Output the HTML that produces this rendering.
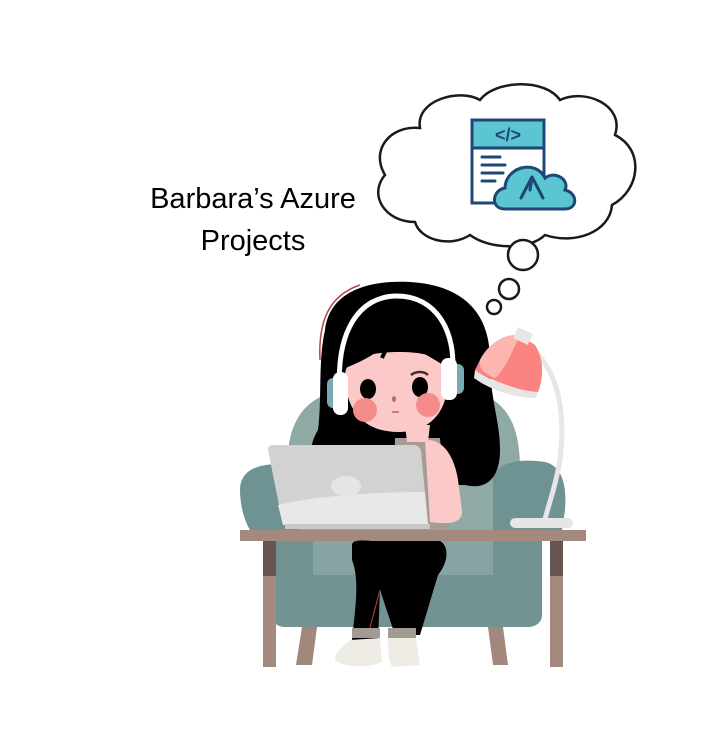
<!DOCTYPE html>
<html><head><meta charset="utf-8"><style>
html,body{margin:0;padding:0;background:#fff;width:718px;height:744px;overflow:hidden}
svg{display:block}
</style></head><body>
<svg width="718" height="744" viewBox="0 0 718 744" xmlns="http://www.w3.org/2000/svg">
<text x="253" y="208" font-family="Liberation Sans, sans-serif" font-size="29" text-anchor="middle" fill="#000">Barbara’s Azure</text>
<text x="253" y="250" font-family="Liberation Sans, sans-serif" font-size="29" text-anchor="middle" fill="#000">Projects</text>

<path d="M420,128 C415,100 460,88 480,100 C495,80 545,78 560,100 C585,88 625,105 615,135 C645,150 640,190 612,205 C610,232 575,245 545,235 C530,250 490,250 470,235 C450,248 420,240 415,222 C385,222 368,195 385,175 C370,150 390,125 420,128 Z" fill="#fff" stroke="#1a1a1a" stroke-width="2.5"/>
<circle cx="523" cy="255" r="15" fill="#fff" stroke="#1a1a1a" stroke-width="2.5"/>
<circle cx="509" cy="289" r="10" fill="#fff" stroke="#1a1a1a" stroke-width="2.5"/>
<circle cx="494" cy="307" r="7" fill="#fff" stroke="#1a1a1a" stroke-width="2.5"/>
<rect x="472" y="120" width="72" height="83" fill="#fff" stroke="#1e4677" stroke-width="3"/>
<rect x="472" y="120" width="72" height="28" fill="#5bc5d2" stroke="#1e4677" stroke-width="3"/>
<text x="508" y="141" font-family="Liberation Sans, sans-serif" font-size="18" font-weight="bold" text-anchor="middle" fill="#1e4677">&lt;/&gt;</text>
<g stroke="#1e4677" stroke-width="3" stroke-linecap="round">
<line x1="482" y1="157" x2="500" y2="157"/><line x1="482" y1="165" x2="505" y2="165"/><line x1="482" y1="173" x2="503" y2="173"/><line x1="482" y1="181" x2="495" y2="181"/>
</g>
<path d="M505,209 C490,209 492,190 505,188 C505,168 535,158 545,178 C555,170 570,180 565,190 C578,193 578,209 565,209 Z" fill="#5bc5d2" stroke="#1e4677" stroke-width="3"/>
<path d="M521,198 L532,177 L543,198 M532,177 L530,190" fill="none" stroke="#1e4677" stroke-width="3" stroke-linecap="round" stroke-linejoin="round"/>

<path d="M287,470 C287,400 320,385 400,383 C490,383 520,400 520,470 L520,540 L287,540 Z" fill="#8faaa5"/>
<path d="M240,490 C240,468 262,462 290,465 L300,530 L250,530 C244,520 240,505 240,490 Z" fill="#6f9292"/>
<path d="M493,480 C495,462 520,458 545,462 C562,466 567,485 565,510 L562,530 L493,530 Z" fill="#6f9292"/>
<path d="M272,540 L542,540 L542,615 C542,622 536,627 528,627 L285,627 C277,627 272,622 272,615 Z" fill="#739393"/>
<rect x="313" y="540" width="180" height="35" fill="#86a4a2"/>
<path d="M302,627 L317,627 L312,665 L296,665 Z" fill="#a1887c"/>
<path d="M488,627 L503,627 L508,665 L493,665 Z" fill="#a1887c"/>

<path d="M325,330 C330,290 370,280 410,282 C460,285 490,310 490,360 C490,400 500,420 500,450 C500,480 485,490 465,485 L330,485 C310,480 305,450 318,430 C322,400 318,360 325,330 Z" fill="#000"/>
<path d="M320,360 C318,320 330,295 360,285" fill="none" stroke="#b0474c" stroke-width="1.5"/>
<path d="M395,438 L440,438 L448,530 L392,530 Z" fill="#a69c94"/>
<path d="M428,440 C445,440 455,460 458,480 L462,510 C463,522 452,525 430,522 L425,440 Z" fill="#fbc9c7"/>
<path d="M405,425 L430,425 L428,442 L407,442 Z" fill="#fbc9c7"/>
<path d="M345,375 C345,360 365,352 400,352 C435,352 448,362 448,378 C448,410 432,432 398,432 C362,432 345,408 345,375 Z" fill="#fbc9c7"/>
<path d="M340,370 C340,320 365,300 400,300 C440,300 455,330 450,370 C430,355 405,345 395,335 C385,348 368,360 340,370 Z" fill="#000"/>
<path d="M382,358 C386,348 392,342 396,330" fill="none" stroke="#000" stroke-width="4"/>
<ellipse cx="368" cy="389" rx="8" ry="10" fill="#000"/>
<ellipse cx="420" cy="387" rx="8" ry="10" fill="#000"/>
<path d="M411,375 C416,371 424,371 428,375" fill="none" stroke="#4a2a20" stroke-width="2.5"/>
<circle cx="365" cy="410" r="12" fill="#f48c8c"/>
<circle cx="428" cy="405" r="12" fill="#f48c8c"/>
<ellipse cx="394" cy="399" rx="2" ry="3" fill="#b76b66"/>
<line x1="392" y1="412" x2="399" y2="412" stroke="#c4605b" stroke-width="1.5"/>
<path d="M340,395 C335,330 360,296 397,296 C435,296 458,330 452,380" fill="none" stroke="#fff" stroke-width="5"/>
<rect x="327" y="378" width="14" height="30" rx="6" fill="#79aab0"/>
<rect x="333" y="372" width="15" height="43" rx="7" fill="#fff"/>
<rect x="451" y="364" width="13" height="30" rx="6" fill="#79aab0"/>
<rect x="441" y="358" width="16" height="42" rx="7" fill="#fff"/>

<path d="M527,345 C562,370 565,420 560,460 C555,490 548,505 545,520" fill="none" stroke="#e6e6e6" stroke-width="5"/>
<path d="M480,360 C490,340 515,330 535,345 C545,360 543,380 538,392 C520,392 490,380 475,370 Z" fill="#fc8480"/>
<path d="M480,360 C490,340 510,332 520,336 C510,355 505,370 495,378 C485,374 478,368 480,360 Z" fill="#fdb5b0"/>
<path d="M475,370 C495,383 520,392 538,392 L536,398 C515,398 490,390 474,378 Z" fill="#e6e6e6"/>
<rect x="515" y="330" width="16" height="12" fill="#e6e6e6" transform="rotate(25 523 336)"/>
<rect x="510" y="518" width="63" height="10" rx="5" fill="#e6e6e6"/>

<path d="M268,450 C268,446 270,445 274,445 L413,445 C417,445 420,447 421,451 L428,525 L283,525 Z" fill="#d2d2d2"/>
<path d="M278,505 C320,495 380,492 425,492 L428,525 L283,525 Z" fill="#e8e8e8"/>
<ellipse cx="346" cy="486" rx="15" ry="10" fill="#e5e5e5"/>
<rect x="285" y="524" width="145" height="5" fill="#c8c8c8"/>

<rect x="240" y="530" width="346" height="11" fill="#a48a7e"/>
<rect x="263" y="541" width="13" height="35" fill="#65544f"/>
<rect x="263" y="576" width="13" height="91" fill="#a48a7e"/>
<rect x="550" y="541" width="13" height="35" fill="#65544f"/>
<rect x="550" y="576" width="13" height="91" fill="#a48a7e"/>

<path d="M352,545 C352,540 360,540 372,541 L440,541 C448,545 450,560 438,575 L420,635 L395,635 L380,590 L378,640 L352,640 C355,610 360,580 352,560 Z" fill="#000"/>
<line x1="380" y1="590" x2="368" y2="635" stroke="#b0474c" stroke-width="1"/>
<rect x="352" y="628" width="28" height="10" fill="#a39b93"/>
<rect x="388" y="628" width="28" height="10" fill="#a39b93"/>
<path d="M350,640 L380,638 L382,662 C370,668 345,668 335,660 C335,652 345,645 350,640 Z" fill="#efece6"/>
<path d="M388,638 L416,638 L420,665 L392,667 C388,660 388,648 388,638 Z" fill="#efece6"/>
</svg>
</body></html>
